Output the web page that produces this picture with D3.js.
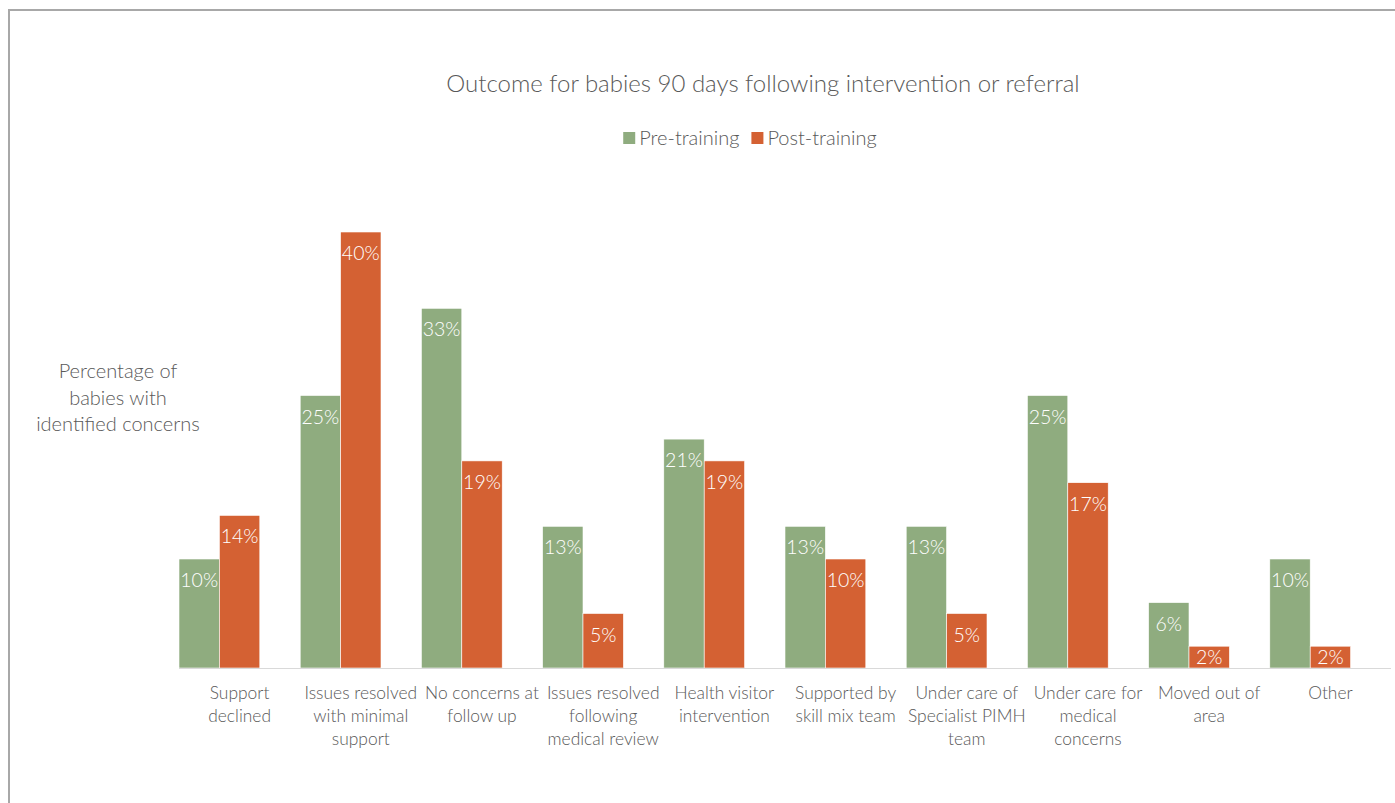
<!DOCTYPE html>
<html>
<head>
<meta charset="utf-8">
<script src="https://cdn.jsdelivr.net/npm/d3@7"></script>
<style>
  body { margin: 0; background: #fff; }
  text { font-family: Lato, "Open Sans", sans-serif; fill: #595959; font-weight: 300; }
</style>
</head>
<body>
<script>
// chart data
const categories = [
  'Support declined',
  'Issues resolved with minimal support',
  'No concerns at follow up',
  'Issues resolved following medical review',
  'Health visitor intervention',
  'Supported by skill mix team',
  'Under care of Specialist PIMH team',
  'Under care for medical concerns',
  'Moved out of area',
  'Other'];

// how the category labels wrap under the axis
const categoryLines = [
  ['Support', 'declined'],
  ['Issues resolved', 'with minimal', 'support'],
  ['No concerns at', 'follow up'],
  ['Issues resolved', 'following', 'medical review'],
  ['Health visitor', 'intervention'],
  ['Supported by', 'skill mix team'],
  ['Under care of', 'Specialist PIMH', 'team'],
  ['Under care for', 'medical', 'concerns'],
  ['Moved out of', 'area'],
  ['Other']];

const seriesNames = ['Pre-training', 'Post-training'];
const preTraining = [10, 25, 33, 13, 21, 13, 13, 25, 6, 10];
const postTraining = [14, 40, 19, 5, 19, 10, 5, 17, 2, 2];

const colors = ['#8fac7f', '#d46133'];

const W = 1395, H = 803;
const baseY = 668;

const svg = d3.select('body').append('svg')
  .attr('width', W)
  .attr('height', H);

// outer frame, cut off at the right and bottom
svg.append('rect')
  .attr('x', 9).attr('y', 10)
  .attr('width', W + 20).attr('height', H + 20)
  .attr('fill', 'none')
  .attr('stroke', '#a8a8a8')
  .attr('stroke-width', 2);

svg.append('text')
  .attr('x', 763)
  .attr('y', 92)
  .attr('text-anchor', 'middle')
  .style('font-size', '24px')
  .text('Outcome for babies 90 days following intervention or referral');

const x = d3.scaleBand()
  .domain(categories)
  .range([179, 1391]);

// two bars take the first two thirds of each band, the rest is gap
const xSub = d3.scaleBand()
  .domain(seriesNames)
  .range([0, x.bandwidth() * 2 / 3]);

const y = d3.scaleLinear()
  .domain([0, 45])
  .range([baseY, 177.5]);

const rows = categories.map((c, i) => ({
  cat: c,
  vals: [preTraining[i], postTraining[i]]
}));

const groups = svg.selectAll('.grp')
  .data(rows)
  .enter().append('g')
  .attr('class', 'grp')
  .attr('transform', d => `translate(${x(d.cat)},0)`);

const bars = groups.selectAll('g.bar')
  .data(d => d.vals.map((v, j) => ({ key: seriesNames[j], v: v, j: j })))
  .enter().append('g')
  .attr('class', 'bar');

bars.append('rect')
  .attr('x', d => xSub(d.key))
  .attr('y', d => y(d.v))
  .attr('width', xSub.bandwidth())
  .attr('height', d => baseY - y(d.v))
  .attr('fill', d => colors[d.j])
  .attr('stroke', '#fff')
  .attr('stroke-width', 0.6);

bars.append('text')
  .attr('x', d => xSub(d.key) + xSub.bandwidth() / 2)
  .attr('y', d => Math.min(y(d.v) + 21, baseY - 11) + 7)
  .attr('text-anchor', 'middle')
  .style('fill', '#fff')
  .style('font-size', '19.5px')
  .text(d => d.v + '%');

// baseline
svg.append('line')
  .attr('x1', 179).attr('x2', 1391)
  .attr('y1', baseY + 0.5).attr('y2', baseY + 0.5)
  .attr('stroke', '#d9d9d9')
  .attr('stroke-width', 1);

// category labels
const labels = svg.selectAll('.cat-label')
  .data(categories)
  .enter().append('text')
  .attr('class', 'cat-label')
  .attr('text-anchor', 'middle')
  .style('font-size', '17.4px');

labels.selectAll('tspan')
  .data((d, i) => categoryLines[i].map(l => ({ line: l, cat: d })))
  .enter().append('tspan')
  .attr('x', d => x(d.cat) + x.bandwidth() / 2)
  .attr('y', (d, k) => 699 + k * 23)
  .text(d => d.line);

// y axis title
const yTitle = ['Percentage of', 'babies with', 'identified concerns'];
svg.append('text')
  .attr('text-anchor', 'middle')
  .style('font-size', '20px')
  .selectAll('tspan')
  .data(yTitle)
  .enter().append('tspan')
  .attr('x', 118)
  .attr('y', (d, k) => 378 + k * 26.5)
  .text(d => d);

// legend
const legend = svg.append('g');
let lx = 0;
seriesNames.forEach((name, i) => {
  const item = legend.append('g').attr('transform', `translate(${lx},0)`);
  item.append('rect')
    .attr('x', 0).attr('y', 132)
    .attr('width', 12).attr('height', 12)
    .attr('fill', colors[i]);
  const t = item.append('text')
    .attr('x', 16).attr('y', 145)
    .style('font-size', '20px')
    .text(name);
  lx += 16 + t.node().getComputedTextLength() + 12;
});
const lw = lx - 12;
legend.attr('transform', `translate(${750 - lw / 2},0)`);
</script>
</body>
</html>
